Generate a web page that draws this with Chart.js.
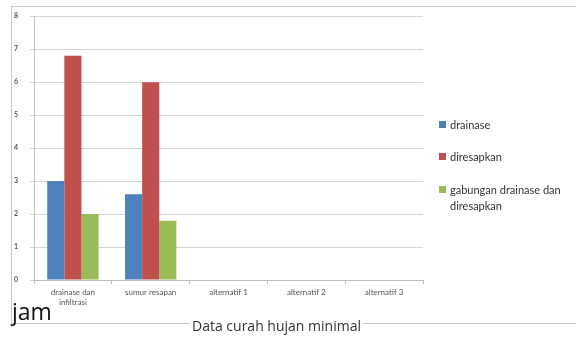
<!DOCTYPE html>
<html>
<head>
<meta charset="utf-8">
<script src="https://cdn.jsdelivr.net/npm/chart.js@4/dist/chart.umd.min.js"></script>
<style>
  body { margin: 0; background: #fff; width: 576px; height: 337px; overflow: hidden; position: relative; font-family: Lato, "Open Sans", sans-serif; }
  #bingkai { position: absolute; left: 11px; top: 6px; width: 600px; height: 316px; border: 1px solid #c8c8c8; border-right: none; }
  #plot { position: absolute; left: 0; top: 0; }
  #legenda { position: absolute; left: 439px; top: 0; font-size: 11px; color: #333; }
  .item { position: absolute; left: 0; white-space: nowrap; line-height: 16px; }
  .kotak { display: inline-block; width: 7px; height: 7px; margin-right: 4px; vertical-align: 1px; }
  #jam { position: absolute; left: 12px; top: 298px; font-size: 23px; color: #111; font-family: "Open Sans", sans-serif; line-height: 26px; }
  #judul { position: absolute; left: 190px; top: 317px; font-size: 14px; color: #333; background: #fff; padding: 0 2px; line-height: 18px; font-family: "Open Sans", sans-serif; }
</style>
</head>
<body>
<div id="bingkai"></div>
<canvas id="plot" width="576" height="337"></canvas>
<div id="legenda"></div>
<div id="jam">jam</div>
<div id="judul">Data curah hujan minimal</div>
<script>
let kategori = [['drainase dan', 'infiltrasi'], 'sumur resapan', 'alternatif 1', 'alternatif 2', 'alternatif 3'];
let drainase = [3, 2.6, null, null, null];
let diresapkan = [6.8, 6.0, null, null, null];
let gabungan = [2.0, 1.8, null, null, null];
let namaSeri = ['drainase', 'diresapkan', ['gabungan drainase dan', 'diresapkan']];
let warna = ['#4f81bd', '#c0504d', '#9bbb59'];
let posisiLegenda = [117, 149, 182];

let buatDataset = (label, data, w) => ({
  label: label,
  data: data,
  backgroundColor: w,
  borderWidth: 0,
  barPercentage: 1,
  categoryPercentage: 0.66
});

let config = {
  type: 'bar',
  data: {
    labels: kategori,
    datasets: [
      buatDataset('drainase', drainase, warna[0]),
      buatDataset('diresapkan', diresapkan, warna[1]),
      buatDataset('gabungan drainase dan diresapkan', gabungan, warna[2])
    ]
  },
  options: {
    responsive: false,
    animation: false,
    layout: { padding: { left: 10, right: 153, top: 15, bottom: 0 } },
    plugins: { legend: { display: false }, tooltip: { enabled: false } },
    scales: {
      x: {
        grid: { drawOnChartArea: false, color: '#bdbdbd', tickLength: 4 },
        border: { color: '#bdbdbd' },
        ticks: { color: '#555', font: { family: 'Lato', size: 8 }, maxRotation: 0, autoSkip: false, padding: 4 },
        afterFit: (s) => { s.height = 57; }
      },
      y: {
        min: 0,
        max: 8,
        ticks: { stepSize: 1, color: '#555', font: { family: 'Lato', size: 7, weight: 'bold' }, padding: 12 },
        grid: { color: '#d4d4d4', tickLength: 4 },
        border: { color: '#bdbdbd' },
        afterFit: (s) => { s.width = 24; }
      }
    }
  }
};

new Chart(document.getElementById('plot'), config);

// legenda manual di kanan
let legenda = document.getElementById('legenda');
namaSeri.forEach((nama, i) => {
  let el = document.createElement('div');
  el.className = 'item';
  el.style.top = posisiLegenda[i] + 'px';
  let teks = Array.isArray(nama) ? nama.join('<br><span style="margin-left:11px"></span>') : nama;
  el.innerHTML = `<span class="kotak" style="background:${warna[i]}"></span>${teks}`;
  legenda.appendChild(el);
});
</script>
</body>
</html>
